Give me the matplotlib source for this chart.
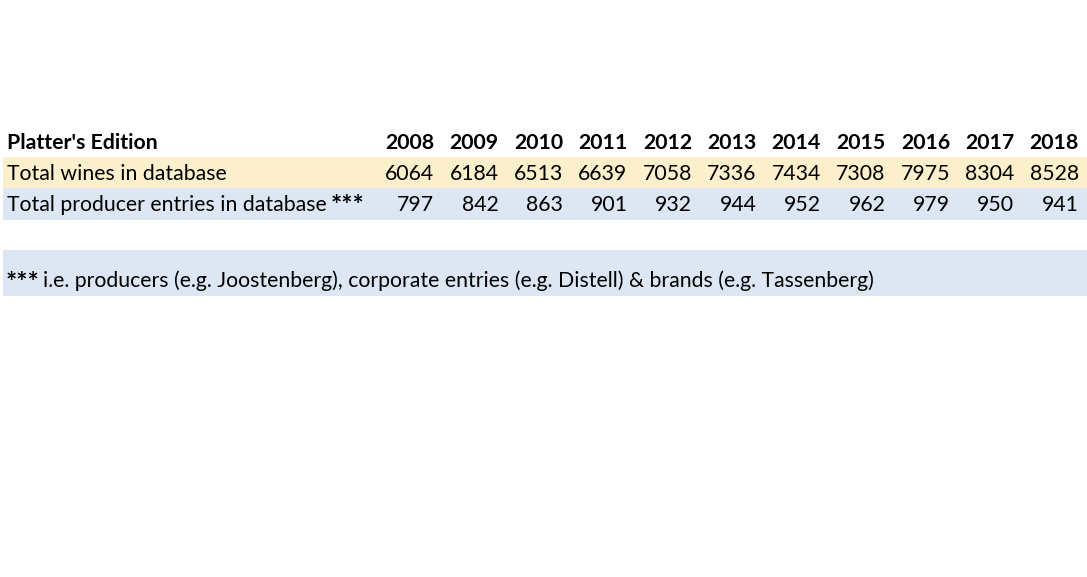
import matplotlib
matplotlib.use("Agg")
import matplotlib.pyplot as plt
from matplotlib.patches import Rectangle

# table data
years = [2008, 2009, 2010, 2011, 2012, 2013, 2014, 2015, 2016, 2017, 2018]
total_wines = [6064, 6184, 6513, 6639, 7058, 7336, 7434, 7308, 7975, 8304, 8528]
total_producers = [797, 842, 863, 901, 932, 944, 952, 962, 979, 950, 941]
header_label = "Platter's Edition"
row_labels = ["Total wines in database", "Total producer entries in database"]
footnote = "i.e. producers (e.g. Joostenberg), corporate entries (e.g. Distell) & brands (e.g. Tassenberg)"

W, H = 1087, 577
plt.rcParams["font.family"] = ["Lato", "DejaVu Sans"]
fig = plt.figure(figsize=(W / 100, H / 100), dpi=100)
ax = fig.add_axes([0, 0, 1, 1])
ax.set_xlim(0, W)
ax.set_ylim(H, 0)
ax.axis("off")

fs = 15.3
fs_star = 19  # asterisks look bigger in the original font

# background bands
ax.add_patch(Rectangle((3, 157), W - 3, 31, color="#fcf0cc", lw=0))
ax.add_patch(Rectangle((3, 188), W - 3, 32, color="#dde7f4", lw=0))
ax.add_patch(Rectangle((3, 250), W - 3, 46, color="#dde7f4", lw=0))

col_right0, col_step = 434, 64.5
y_head, y_r1, y_r2 = 143, 174, 205

ax.text(7, y_head, header_label, fontsize=fs, fontweight="bold", va="center", ha="left")
ax.text(7, y_r1, row_labels[0], fontsize=fs, va="center", ha="left")
t2 = ax.text(7, y_r2, row_labels[1], fontsize=fs, va="center", ha="left")
ax.annotate("***", xy=(1, 0.5), xycoords=t2, xytext=(3, -1), textcoords="offset points",
            fontsize=fs_star, fontweight="bold", va="center", ha="left")

for i, yr in enumerate(years):
    xr = col_right0 + i * col_step
    ax.text(xr, y_head, str(yr), fontsize=fs, fontweight="bold", va="center", ha="right")
    ax.text(xr, y_r1, str(total_wines[i]), fontsize=fs, va="center", ha="right")
    ax.text(xr, y_r2, str(total_producers[i]), fontsize=fs, va="center", ha="right")

ax.text(6, 283, "***", fontsize=fs_star, fontweight="bold", va="center", ha="left")
ax.text(43, 281, footnote, fontsize=fs, va="center", ha="left")

fig.savefig("out.png", dpi=100)
